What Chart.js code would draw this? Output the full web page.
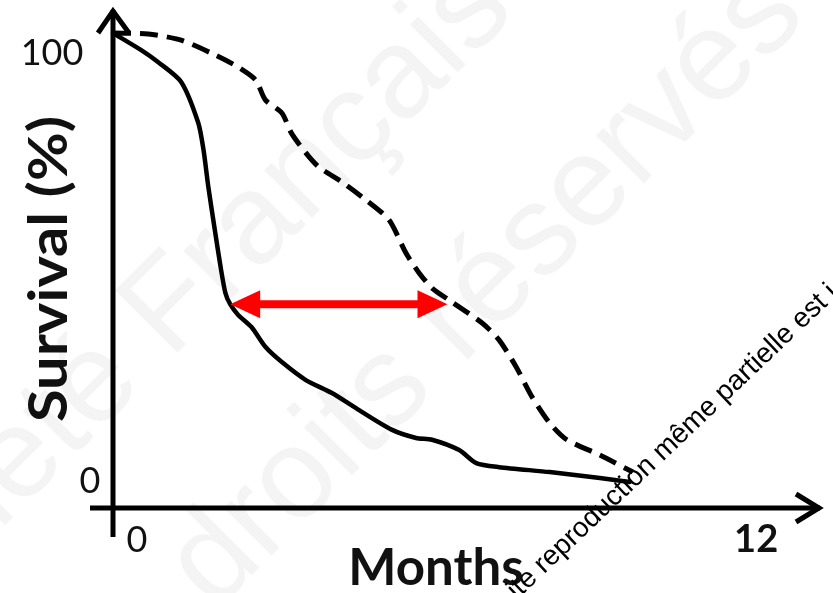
<!DOCTYPE html>
<html><head><meta charset="utf-8">
<script src="https://cdn.jsdelivr.net/npm/chart.js@4.4.1/dist/chart.umd.min.js"></script>
<style>html,body{margin:0;padding:0;background:#fff;overflow:hidden}canvas{display:block}</style>
</head><body>
<canvas id="c" width="833" height="593"></canvas>
<script>
// ---- data ----
const solidMonths   = [0, 0.53, 0.85, 1.28, 1.60, 1.70, 1.79, 1.92, 2.02, 2.11, 2.20, 2.35, 2.60, 2.86, 3.17, 3.62, 4.11, 4.62, 5.24, 5.69, 5.99, 6.50, 6.82, 7.25, 8.20, 9.14, 9.70];
const solidSurvival = [100, 96.2, 93.5, 89.1, 80.0, 73.9, 65.7, 55.5, 47.9, 42.1, 39.6, 37.2, 34.5, 30.1, 26.7, 22.7, 19.8, 16.0, 11.6, 9.8, 9.4, 7.1, 4.2, 3.3, 2.2, 0.9, 0];
const dashedMonths   = [0, 0.66, 1.28, 1.92, 2.35, 2.68, 2.86, 3.17, 3.35, 3.62, 3.86, 4.30, 4.75, 5.18, 5.50, 5.75, 5.99, 6.31, 6.93, 7.25, 7.57, 7.87, 8.20, 8.52, 9.14, 9.76];
const dashedSurvival = [100, 99.8, 98.4, 95.1, 92.4, 89.5, 85.1, 82.2, 77.7, 73.3, 70.2, 66.8, 62.8, 58.4, 51.0, 46.5, 43.2, 40.5, 35.4, 31.6, 25.6, 18.9, 13.1, 9.4, 6.0, 2.2];
const arrowMonths   = [2.20, 6.28];
const arrowSurvival = [39.6, 39.6];
const xTickValues = [0, 12];
const xTickLabels = ['0', '12'];
const yTickValues = [0, 100];
const yTickLabels = ['0', '100'];
const xTitle = 'Months';
const yTitle = 'Survival (%)';
const watermarkLines = ['Société Française', 'droits réservés'];
const noticeText = 'ite reproduction même partielle est i';

const toPts = (xs, ys) => xs.map((x, i) => ({x: x, y: ys[i]}));

// ---- styles ----
const xLabelStyle = [{dx: 24, dy: 44, font: '36px Lato'}, {dx: 4, dy: 44, font: 'bold 38px Lato'}];
const yLabelStyle = [{x: 90, dy: 11, font: '36px Lato'}, {x: 52, dy: 32, font: '36px Lato'}];

const decor = {
  id: 'decor',
  beforeDraw(chart) {
    const ctx = chart.ctx;
    ctx.save();
    ctx.fillStyle = '#f4f4f4';
    ctx.font = '128px "Liberation Sans"';
    ctx.textBaseline = 'alphabetic';
    const ang = -Math.PI / 4;
    ctx.save();
    const w1 = ctx.measureText('Société ').width;
    ctx.translate(170 - w1 * Math.cos(ang), 360 - w1 * Math.sin(ang));
    ctx.rotate(ang);
    ctx.fillText(watermarkLines[0], 0, 0);
    ctx.restore();
    ctx.save();
    ctx.translate(215, 612);
    ctx.rotate(ang);
    ctx.fillText(watermarkLines[1], 0, 0);
    ctx.restore();
    ctx.restore();
  },
  beforeDatasetsDraw(chart) {
    const ctx = chart.ctx, xs = chart.scales.x, ca = chart.chartArea;
    const x0 = xs.getPixelForValue(0), yb = ca.bottom;
    ctx.save();
    ctx.strokeStyle = '#000';
    ctx.lineWidth = 5;
    ctx.lineCap = 'butt';
    ctx.lineJoin = 'miter';
    ctx.beginPath();
    ctx.moveTo(x0, yb + 29); ctx.lineTo(x0, ca.top + 3);
    ctx.moveTo(x0 - 23, yb); ctx.lineTo(ca.right - 3, yb);
    ctx.stroke();
    ctx.beginPath();
    ctx.moveTo(x0 - 15, ca.top + 26); ctx.lineTo(x0, ca.top + 4); ctx.lineTo(x0 + 16, ca.top + 26);
    ctx.moveTo(ca.right - 27, yb - 14); ctx.lineTo(ca.right - 4, yb); ctx.lineTo(ca.right - 27, yb + 14);
    ctx.stroke();
    ctx.restore();
  },
  afterDatasetsDraw(chart) {
    const ctx = chart.ctx, xs = chart.scales.x, ys = chart.scales.y, ca = chart.chartArea;
    const pts = chart.getDatasetMeta(2).data;
    const a = pts[0], b = pts[1];
    const L = 30, H = 14;
    ctx.save();
    ctx.fillStyle = '#ff0000';
    ctx.strokeStyle = '#ff0000';
    ctx.lineWidth = 8;
    ctx.beginPath();
    ctx.moveTo(a.x + L - 2, a.y); ctx.lineTo(b.x - L + 2, b.y);
    ctx.stroke();
    ctx.beginPath();
    ctx.moveTo(a.x, a.y); ctx.lineTo(a.x + L, a.y - H); ctx.lineTo(a.x + L, a.y + H); ctx.closePath();
    ctx.moveTo(b.x, b.y); ctx.lineTo(b.x - L, b.y - H); ctx.lineTo(b.x - L, b.y + H); ctx.closePath();
    ctx.fill();
    ctx.restore();

    ctx.save();
    ctx.fillStyle = '#111';
    ctx.textAlign = 'center';
    ctx.textBaseline = 'alphabetic';
    xTickValues.forEach((v, i) => {
      ctx.font = xLabelStyle[i].font;
      ctx.fillText(xTickLabels[i], xs.getPixelForValue(v) + xLabelStyle[i].dx, ca.bottom + xLabelStyle[i].dy);
    });
    yTickValues.forEach((v, i) => {
      ctx.font = yLabelStyle[i].font;
      ctx.fillText(yTickLabels[i], yLabelStyle[i].x, ys.getPixelForValue(v) + yLabelStyle[i].dy);
    });
    ctx.font = 'bold 51px Lato';
    ctx.fillText(xTitle, 436, 585);
    ctx.save();
    ctx.translate(67, 269);
    ctx.rotate(-Math.PI / 2);
    ctx.font = 'bold 54px Lato';
    const tw = ctx.measureText(yTitle).width;
    ctx.scale(306 / tw, 1);
    ctx.fillText(yTitle, 0, 0);
    ctx.restore();
    ctx.save();
    ctx.fillStyle = '#000';
    ctx.textAlign = 'left';
    ctx.font = '28px "Liberation Sans"';
    ctx.translate(517, 600);
    ctx.rotate(-43.5 * Math.PI / 180);
    ctx.fillText(noticeText, 0, 0);
    ctx.restore();
    ctx.restore();
  }
};

new Chart(document.getElementById('c'), {
  type: 'line',
  data: {
    datasets: [
      {label: 'solid', data: toPts(solidMonths, solidSurvival), borderColor: '#000', borderWidth: 4.5,
       pointRadius: 0, tension: 0.25, fill: false, clip: false, borderJoinStyle: 'round', borderCapStyle: 'round'},
      {label: 'dashed', data: toPts(dashedMonths, dashedSurvival), borderColor: '#000', borderWidth: 5,
       borderDash: [18, 9], pointRadius: 0, tension: 0.25, fill: false, clip: false, borderJoinStyle: 'round'},
      {label: 'arrow', data: toPts(arrowMonths, arrowSurvival), borderColor: 'rgba(0,0,0,0)', borderWidth: 0,
       pointRadius: 0, showLine: false, clip: false}
    ]
  },
  options: {
    responsive: false,
    animation: false,
    devicePixelRatio: 1,
    layout: {padding: {left: 113, right: 10, top: 7, bottom: 85}},
    plugins: {legend: {display: false}, tooltip: {enabled: false}, title: {display: false}},
    events: [],
    scales: {
      x: {type: 'linear', min: 0, max: 13.33, display: false},
      y: {type: 'linear', min: -5.8, max: 105.8, display: false}
    }
  },
  plugins: [decor]
});
</script>
</body></html>
